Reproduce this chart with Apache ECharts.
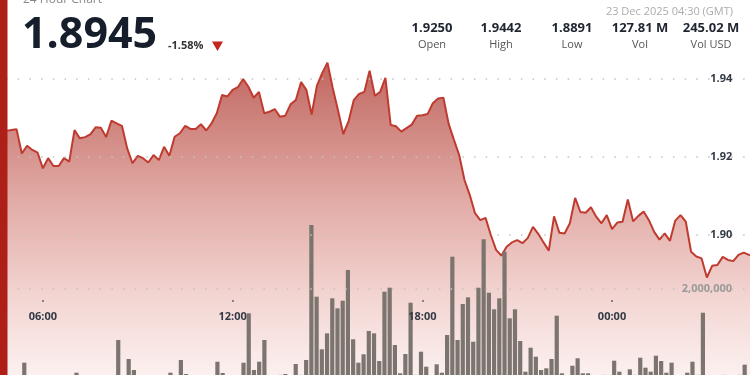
<!DOCTYPE html>
<html>
<head>
<meta charset="utf-8">
<script src="https://cdn.jsdelivr.net/npm/echarts@6/dist/echarts.min.js"></script>
<style>
html,body{margin:0;padding:0;background:#fff;}
#chart{width:750px;height:375px;}
</style>
</head>
<body>
<div id="chart"></div>
<script>
// 10-minute bins from 04:50 (22 Dec) to 04:30 (23 Dec)
const startMinutes = 4 * 60 + 50;
const binCount = 143;
const times = [];
for (let i = 0; i < binCount; i++) {
  const m = (startMinutes + i * 10) % 1440;
  times.push(String(Math.floor(m / 60)).padStart(2, '0') + ':' + String(m % 60).padStart(2, '0'));
}
const tickLabels = ['06:00', '12:00', '18:00', '00:00'];
const priceTicks = [1.90, 1.92, 1.94];
const volumeTicks = [2000000];

const prices = [
  1.9267, 1.9269, 1.9271, 1.9209, 1.9229, 1.9218, 1.9211, 1.9171, 1.9197, 1.9177,
  1.9177, 1.9197, 1.9188, 1.9269, 1.9248, 1.9251, 1.9258, 1.9276, 1.9275, 1.9251,
  1.9293, 1.9286, 1.9280, 1.9222, 1.9184, 1.9203, 1.9197, 1.9186, 1.9205, 1.9192,
  1.9226, 1.9203, 1.9252, 1.9261, 1.9280, 1.9272, 1.9272, 1.9284, 1.9268, 1.9286,
  1.9312, 1.9359, 1.9355, 1.9372, 1.9379, 1.9400, 1.9380, 1.9352, 1.9367, 1.9312,
  1.9316, 1.9323, 1.9303, 1.9306, 1.9335, 1.9346, 1.9392, 1.9372, 1.9309, 1.9383,
  1.9415, 1.9442, 1.9377, 1.9320, 1.9259, 1.9291, 1.9346, 1.9362, 1.9367, 1.9421,
  1.9357, 1.9367, 1.9403, 1.9282, 1.9279, 1.9265, 1.9274, 1.9283, 1.9306, 1.9307,
  1.9310, 1.9338, 1.9350, 1.9352, 1.9285, 1.9244, 1.9205, 1.9141, 1.9103, 1.9056,
  1.9038, 1.9044, 1.9000, 1.8962, 1.8947, 1.8970, 1.8981, 1.8987, 1.8979, 1.8992,
  1.9021, 1.9003, 1.8981, 1.8960, 1.9048, 1.9006, 1.9004, 1.9030, 1.9095, 1.9059,
  1.9057, 1.9071, 1.9047, 1.9030, 1.9051, 1.9015, 1.9032, 1.9034, 1.9091, 1.9035,
  1.9049, 1.9060, 1.9038, 1.9008, 1.8988, 1.9004, 1.8985, 1.9037, 1.9051, 1.9034,
  1.8957, 1.8945, 1.8940, 1.8891, 1.8921, 1.8923, 1.8944, 1.8936, 1.8933, 1.8949,
  1.8955, 1.8949, 1.8945
];

const volumes = [
  50000, 40000, 60000, 344000, 50000, 40000, 60000, 50000, 40000, 50000,
  60000, 40000, 50000, 119000, 50000, 40000, 60000, 50000, 40000, 60000,
  50000, 854000, 60000, 427000, 180000, 50000, 40000, 60000, 50000, 40000,
  60000, 119000, 50000, 404000, 90000, 50000, 40000, 60000, 50000, 60000,
  366000, 112000, 60000, 50000, 60000, 344000, 1454000, 180000, 366000, 854000,
  60000, 50000, 70000, 90000, 60000, 315000, 70000, 404000, 3438000, 1827000,
  645000, 1004000, 1791000, 1566000, 1737000, 2427000, 870000, 344000, 533000, 1056000,
  1004000, 382000, 1939000, 2029000, 742000, 106000, 539000, 1692000, 70000, 591000,
  254000, 60000, 308000, 119000, 966000, 2726000, 854000, 1663000, 1813000, 816000,
  2029000, 3117000, 1917000, 1544000, 1791000, 2838000, 1341000, 1544000, 831000, 142000,
  681000, 479000, 180000, 218000, 427000, 1400000, 106000, 60000, 276000, 443000,
  106000, 106000, 60000, 50000, 70000, 60000, 389000, 142000, 60000, 195000,
  70000, 456000, 232000, 142000, 501000, 382000, 119000, 344000, 60000, 50000,
  119000, 366000, 70000, 1467000, 60000, 50000, 60000, 70000, 50000, 60000,
  70000, 300000, 60000
];

const headerTitle = '24 Hour Chart';
const lastPrice = '1.8945';
const changeText = '-1.58%';
const dateText = '23 Dec 2025 04:30 (GMT)';
const statValues = ['1.9250', '1.9442', '1.8891', '127.81 M', '245.02 M'];
const statLabels = ['Open', 'High', 'Low', 'Vol', 'Vol USD'];
const statCenters = [432, 501, 572, 640, 711];

const FONT = '"Open Sans", "Noto Sans", sans-serif';
const T = 'rgba(0,0,0,0)';
const GRID_C = '#c4c4c4';

const chart = echarts.init(document.getElementById('chart'), null, {renderer: 'canvas'});

const graphics = [
  {type: 'text', x: 23, y: 0, z: 100, style: {text: headerTitle, font: '12px ' + FONT, fill: '#8a8a8a', textAlign: 'left', textVerticalAlign: 'middle'}},
  {type: 'text', x: 22, y: 36, z: 100, style: {text: lastPrice, font: 'bold 43px ' + FONT, fill: '#161e2c', textAlign: 'left', textVerticalAlign: 'middle'}},
  {type: 'text', x: 168, y: 46, z: 100, style: {text: changeText, font: 'bold 11px ' + FONT, fill: '#333', textAlign: 'left', textVerticalAlign: 'middle'}},
  {type: 'polygon', z: 100, shape: {points: [[212, 41.5], [223, 41.5], [217.5, 51]]}, style: {fill: '#c4251d'}},
  {type: 'text', x: 733, y: 11.5, z: 100, style: {text: dateText, font: '11px ' + FONT, fill: '#acacac', textAlign: 'right', textVerticalAlign: 'middle'}},
  {type: 'rect', z: 100, shape: {x: 0, y: 0, width: 7.5, height: 375}, style: {fill: '#ae1f18'}}
];
statValues.forEach((v, i) => {
  graphics.push({type: 'text', x: statCenters[i], y: 28, z: 100, style: {text: v, font: 'bold 13px ' + FONT, fill: '#1e2430', textAlign: 'center', textVerticalAlign: 'middle'}});
  graphics.push({type: 'text', x: statCenters[i], y: 45, z: 100, style: {text: statLabels[i], font: '11px ' + FONT, fill: '#555', textAlign: 'center', textVerticalAlign: 'middle'}});
});

const showTick = (idx, val) => tickLabels.indexOf(val) >= 0;

chart.setOption({
  animation: false,
  backgroundColor: '#ffffff',
  graphic: graphics,
  grid: [
    {left: 6, top: 1, width: 748.3, height: 390, containLabel: false, outerBoundsMode: 'none'},
    {left: 6, top: 200, width: 746.5, height: 178, containLabel: false, outerBoundsMode: 'none'}
  ],
  xAxis: [
    {
      type: 'category', gridIndex: 0, data: times, boundaryGap: false,
      offset: -91, z: 10,
      axisLine: {show: false},
      axisTick: {show: true, interval: showTick, length: 2, lineStyle: {color: '#666', width: 1.5}},
      axisLabel: {interval: showTick, margin: 11, color: '#333a45', fontFamily: FONT, fontSize: 11, fontWeight: 'bold'},
      splitLine: {show: false}
    },
    {
      type: 'category', gridIndex: 1, data: times, boundaryGap: true, show: false
    }
  ],
  yAxis: [
    {
      type: 'value', gridIndex: 0, position: 'right', min: 1.86, max: 1.96, interval: 0.02, z: 10,
      axisLine: {show: false}, axisTick: {show: false},
      axisLabel: {
        inside: true, margin: 22, color: '#333a45', fontFamily: FONT, fontSize: 11, fontWeight: 'bold',
        formatter: v => priceTicks.some(p => Math.abs(p - v) < 1e-6) ? v.toFixed(2) : ''
      },
      splitLine: {show: true, lineStyle: {color: [T, T, GRID_C, GRID_C, GRID_C, T], width: 1.5, type: [1.5, 10.2]}}
    },
    {
      type: 'value', gridIndex: 1, position: 'right', min: 0, max: 4000000, interval: 2000000, z: 10,
      axisLine: {show: false}, axisTick: {show: false},
      axisLabel: {
        inside: true, margin: 20.5, color: '#9a9a9a', fontFamily: FONT, fontSize: 11, fontWeight: 'bold',
        formatter: v => volumeTicks.indexOf(v) >= 0 ? v.toLocaleString('en-US') : ''
      },
      splitLine: {show: true, lineStyle: {color: [T, GRID_C, T], width: 1.5, type: [1.5, 10.2]}}
    }
  ],
  series: [
    {
      type: 'line', xAxisIndex: 0, yAxisIndex: 0, data: prices,
      symbol: 'none', smooth: false, z: 2,
      lineStyle: {color: '#bf3a2f', width: 2},
      areaStyle: {
        opacity: 1,
        color: {
          type: 'linear', x: 0, y: 0, x2: 0, y2: 1,
          colorStops: [
            {offset: 0, color: '#c4655e'},
            {offset: 0.12, color: '#ca7a74'},
            {offset: 0.42, color: '#e2aba6'},
            {offset: 0.72, color: '#f3d6d3'},
            {offset: 1, color: '#fdf6f5'}
          ]
        }
      }
    },
    {
      type: 'bar', xAxisIndex: 1, yAxisIndex: 1, data: volumes,
      barWidth: 4.2, z: 3,
      itemStyle: {color: '#7b746f'}
    }
  ]
});
</script>
</body>
</html>
